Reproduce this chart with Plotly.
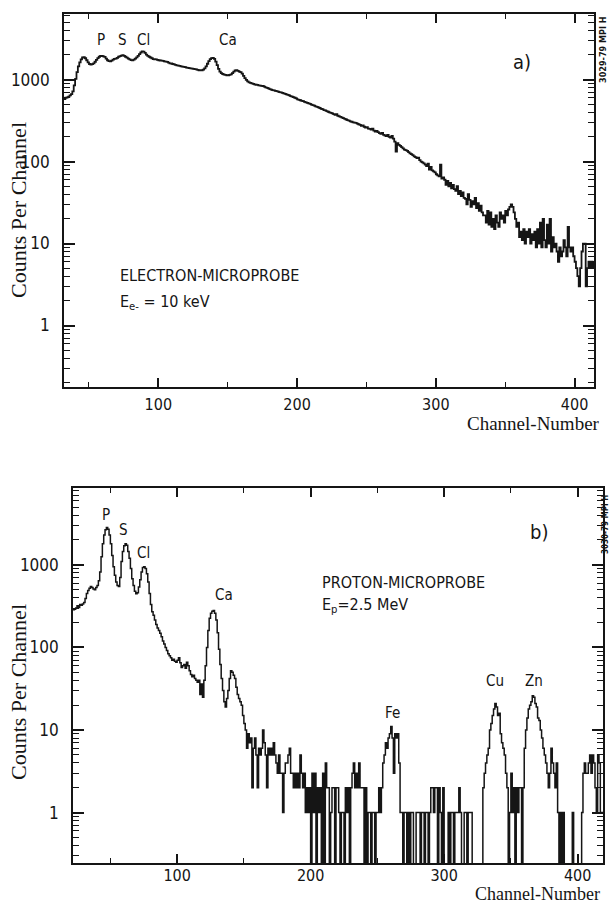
import math
import plotly.graph_objects as go

# ---------------- data ----------------
# a) electron microprobe spectrum, counts per channel, first channel = 32
channel_start_a = 32
counts_a = [
    580, 600, 605, 620, 640, 665, 720, 850, 1020, 1230,
    1450, 1620, 1760, 1860, 1880, 1820, 1720, 1620, 1550, 1520,
    1540, 1580, 1650, 1740, 1830, 1900, 1950, 1940, 1920, 1890,
    1800, 1720, 1680, 1670, 1700, 1750, 1790, 1800, 1840, 1900,
    1930, 1960, 1980, 1950, 1900, 1850, 1800, 1760, 1730, 1720,
    1750, 1800, 1870, 1950, 2050, 2140, 2200, 2190, 2120, 2020,
    1950, 1900, 1860, 1820, 1780, 1770, 1760, 1740, 1720, 1710,
    1700, 1690, 1670, 1660, 1640, 1610, 1580, 1570, 1550, 1530,
    1510, 1490, 1480, 1470, 1450, 1440, 1430, 1420, 1400, 1390,
    1380, 1370, 1360, 1350, 1340, 1330, 1310, 1300, 1300, 1300,
    1320, 1370, 1450, 1560, 1680, 1780, 1830, 1840, 1790, 1660,
    1500, 1350, 1250, 1200, 1170, 1150, 1140, 1130, 1130, 1140,
    1160, 1200, 1250, 1290, 1300, 1280, 1250, 1230, 1180, 1110,
    1040, 990, 950, 925, 910, 900, 885, 875, 865, 860,
    850, 845, 840, 835, 820, 805, 790, 780, 765, 755,
    745, 740, 730, 725, 715, 705, 700, 690, 680, 670,
    660, 650, 640, 630, 620, 612, 600, 590, 575, 565,
    560, 550, 545, 535, 528, 520, 512, 505, 495, 488,
    480, 470, 465, 458, 450, 440, 435, 425, 420, 412,
    405, 398, 392, 386, 380, 372, 378, 362, 355, 350,
    344, 338, 332, 326, 320, 315, 310, 306, 300, 298,
    296, 290, 285, 280, 272, 276, 266, 260, 262, 252,
    250, 246, 252, 238, 232, 236, 228, 222, 218, 224,
    212, 208, 205, 212, 200, 196, 205, 190, 175, 132,
    168, 160, 155, 150, 145, 140, 138, 135, 130, 126,
    123, 120, 116, 113, 110, 112, 104, 100, 98, 95,
    92, 88, 94, 80, 86, 78, 76, 74, 70, 68,
    66, 92, 62, 64, 60, 52, 58, 50, 55, 47,
    52, 46, 44, 50, 40, 44, 38, 42, 36, 35,
    30, 40, 34, 28, 33, 30, 36, 27, 31, 25,
    29, 24, 22, 22, 18, 25, 17, 24, 16, 20,
    15, 22, 18, 16, 24, 20, 22, 18, 25, 22,
    26, 28, 30, 28, 24, 20, 16, 18, 12, 14,
    11, 15, 10, 14, 12, 15, 10, 13, 11, 14,
    9, 15, 10, 18, 9, 20, 11, 9, 17, 10,
    20, 8, 12, 9, 10, 8, 6, 9, 7, 8,
    11, 9, 7, 16, 9, 8, 9, 7, 6, 5,
    4, 3, 5, 8, 10, 10, 3, 5, 6, 5,
    6, 5, 6,
]

# b) proton microprobe spectrum, counts per channel, first channel = 22
channel_start_b = 22
counts_b = [
    285,
    290, 300, 320, 305, 330, 325, 335, 350, 390, 450,
    490, 520, 545, 530, 510, 500, 530, 560, 640, 820,
    1250, 1800, 2300, 2650, 2830, 2700, 2300, 1800, 1300, 950,
    750, 620, 560, 545, 700, 1100, 1450, 1700, 1800, 1720,
    1450, 1200, 900, 680, 560, 480, 445, 460, 540, 660,
    820, 930, 950, 900, 780, 620, 450, 330, 270, 245,
    215, 190, 172, 160, 148, 135, 120, 110, 100, 92,
    84, 79, 75, 70, 72, 68, 66, 70, 75, 65,
    57, 60, 62, 56, 66, 60, 52, 47, 44, 46,
    42, 40, 38, 40, 27, 36, 25, 40, 60, 100,
    160, 225, 260, 275, 280, 260, 215, 150, 95, 62,
    42, 30, 22, 19, 24, 30, 42, 52, 50, 46,
    42, 33, 27, 24, 22, 20, 15, 12, 10, 6,
    9, 7, 8, 2, 6, 8, 5, 2, 6, 5,
    6, 10, 7, 5, 2, 6, 5, 6, 5, 7,
    5, 4, 3, 5, 3, 3, 1, 3, 4, 4,
    5, 6, 3, 3, 2, 3, 2, 3, 2, 5,
    3, 2, 3, 1, 2, 1, 2, 0, 3, 1,
    3, 0, 2, 1, 2, 0, 3, 0, 4, 2,
    2, 0, 1, 2, 2, 0, 2, 2, 1, 0,
    1, 1, 0, 2, 1, 2, 0, 2, 3, 4,
    2, 3, 2, 4, 2, 2, 2, 0, 2, 0,
    1, 1, 0, 1, 1, 0, 1, 1, 2, 1,
    2, 4, 5, 7, 6, 8, 9, 11, 8, 3,
    9, 8, 9, 4, 1, 1, 0, 1, 1, 0,
    1, 0, 1, 1, 0, 0, 1, 1, 1, 0,
    1, 1, 0, 1, 1, 0, 1, 2, 2, 1,
    2, 2, 0, 2, 1, 0, 2, 0, 0, 0,
    1, 0, 1, 1, 0, 1, 1, 1, 2, 1,
    0, 0, 1, 1, 0, 1, 1, 1, 0, 0,
    0, 0, 0, 0, 0, 0, 2, 3, 4, 5,
    6, 10, 12, 15, 18, 21, 19, 15, 16, 9,
    7, 6, 5, 3, 2, 0, 1, 3, 1, 2,
    0, 2, 1, 2, 2, 0, 2, 6, 10, 14,
    18, 20, 22, 26, 25, 21, 19, 14, 13, 10,
    8, 6, 5, 4, 3, 2, 3, 6, 4, 3,
    2, 4, 1, 0, 1, 0, 1, 0, 0, 0,
    0, 0, 0, 1, 0, 0, 0, 0, 0, 0,
    1, 3, 4, 3, 3, 4, 5, 3, 5, 4,
    2, 1, 5, 4, 1, 1, 1, 1,
]

# peak labels: (text, channel, counts at label centre)
peaks_a = [("P", 59, 3060), ("S", 74, 3060), ("Cl", 89, 3060), ("Ca", 150, 3060)]
peaks_b = [("P", 47, 3980), ("S", 60, 2630), ("Cl", 75, 1380), ("Ca", 135, 436),
           ("Fe", 261, 16), ("Cu", 338, 39.5), ("Zn", 367, 39.5)]

y_tick_vals = [1, 10, 100, 1000]
y_tick_text = ["1", "10", "100", "1000"]
x_tick_vals = [100, 200, 300, 400]
x_minor_vals = [50, 150, 250, 350]

# ---------------- figure ----------------
W, H = 612, 907
channels_a = list(range(channel_start_a, channel_start_a + len(counts_a)))
channels_b = list(range(channel_start_b, channel_start_b + len(counts_b)))
# zero counts are drawn down past the bottom of the log axis
plot_b = [c if c > 0 else 0.02 for c in counts_b]

SANS = "DejaVu Sans Condensed, Liberation Sans Narrow, Liberation Sans, Arial, sans-serif"
SERIF = "Liberation Serif, Times New Roman, serif"
INK = "#151515"

fig = go.Figure()
fig.add_trace(go.Scatter(x=channels_a, y=counts_a, mode="lines", line_shape="hv",
                         line=dict(color=INK, width=1.8), xaxis="x", yaxis="y",
                         showlegend=False, hoverinfo="skip"))
fig.add_trace(go.Scatter(x=channels_b, y=plot_b, mode="lines", line_shape="hv",
                         line=dict(color=INK, width=1.5), xaxis="x2", yaxis="y2",
                         showlegend=False, hoverinfo="skip"))


def px_x(p):
    return p / W


def px_y(p):
    return 1 - p / H


minor_y = [v * m for v in (0.1, 1, 10, 100, 1000) for m in range(2, 10)]


def xaxis(domain, rng, anchor, standoff):
    return dict(domain=domain, range=rng, anchor=anchor, showgrid=False, zeroline=False,
                showline=True, linecolor=INK, linewidth=1.6, mirror="allticks",
                ticks="inside", ticklen=9, tickwidth=1.5, tickcolor=INK,
                tickmode="array", tickvals=x_tick_vals,
                ticklabelstandoff=standoff,
                tickfont=dict(family=SANS, size=16, color=INK),
                minor=dict(tickmode="array", tickvals=x_minor_vals,
                           ticks="inside", ticklen=5, tickwidth=1.3, tickcolor=INK,
                           showgrid=False))


def yaxis(domain, rng, anchor):
    return dict(domain=domain, range=rng, anchor=anchor, type="log", showgrid=False,
                zeroline=False, showline=True, linecolor=INK, linewidth=1.6,
                mirror="allticks", ticks="inside", ticklen=11, tickwidth=1.5,
                tickcolor=INK, tickmode="array", tickvals=y_tick_vals,
                ticktext=y_tick_text, ticklabelstandoff=9,
                tickfont=dict(family=SANS, size=17, color=INK),
                minor=dict(tickmode="array", tickvals=minor_y, ticks="inside",
                           ticklen=6, tickwidth=1.2, tickcolor=INK, showgrid=False))


fig.update_layout(
    width=W, height=H, autosize=False,
    margin=dict(l=0, r=0, t=0, b=0),
    paper_bgcolor="white", plot_bgcolor="white",
    xaxis=xaxis([px_x(64), px_x(594)], [32, 414], "y", 2),
    yaxis=yaxis([px_y(387), px_y(14)], [-0.75, 3.80], "x"),
    xaxis2=xaxis([px_x(73), px_x(603)], [22, 419], "y2", -3),
    yaxis2=yaxis([px_y(863), px_y(488)], [-0.61, 3.93], "x2"),
)

ann = []
lab_font = dict(family=SANS, size=15, color=INK)
for t, xc, yc in peaks_a:
    ann.append(dict(x=xc, y=math.log10(yc), xref="x", yref="y", text=t,
                    showarrow=False, font=lab_font))
for t, xc, yc in peaks_b:
    ann.append(dict(x=xc, y=math.log10(yc), xref="x2", yref="y2", text=t,
                    showarrow=False, font=lab_font))

ann += [
    dict(x=362, y=3.22, xref="x", yref="y", text="a)", showarrow=False,
         font=dict(family=SANS, size=20, color=INK)),
    dict(x=371, y=3.40, xref="x2", yref="y2", text="b)", showarrow=False,
         font=dict(family=SANS, size=20, color=INK)),
    dict(x=71, y=0.608, xref="x", yref="y", xanchor="left", text="ELECTRON-MICROPROBE",
         showarrow=False, font=dict(family=SANS, size=16, color=INK)),
    dict(x=71, y=0.284, xref="x", yref="y", xanchor="left", text="E<sub>e-</sub> = 10 keV",
         showarrow=False, font=dict(family=SANS, size=16, color=INK)),
    dict(x=207, y=2.79, xref="x2", yref="y2", xanchor="left", text="PROTON-MICROPROBE",
         showarrow=False, font=dict(family=SANS, size=16, color=INK)),
    dict(x=207, y=2.507, xref="x2", yref="y2", xanchor="left", text="E<sub>p</sub>=2.5 MeV",
         showarrow=False, font=dict(family=SANS, size=16, color=INK)),
    # axis titles
    dict(x=px_x(18), y=px_y(210), xref="paper", yref="paper", xanchor="center",
         yanchor="middle", text="Counts Per Channel", textangle=-90, showarrow=False,
         font=dict(family=SERIF, size=22, color=INK)),
    dict(x=px_x(18), y=px_y(692), xref="paper", yref="paper", xanchor="center",
         yanchor="middle", text="Counts Per Channel", textangle=-90, showarrow=False,
         font=dict(family=SERIF, size=22, color=INK)),
    dict(x=px_x(602), y=px_y(436), xref="paper", yref="paper", xanchor="right",
         yanchor="bottom", text="Channel-Number", showarrow=False,
         font=dict(family=SERIF, size=19, color=INK)),
    dict(x=px_x(602), y=px_y(906), xref="paper", yref="paper", xanchor="right",
         yanchor="bottom", text="Channel-Number", showarrow=False,
         font=dict(family=SERIF, size=18, color=INK)),
    # plate codes on the right margin
    dict(x=px_x(603), y=px_y(50), xref="paper", yref="paper", xanchor="center",
         yanchor="middle", text="<b>3029-79 MPI H</b>", textangle=-90, showarrow=False,
         font=dict(family=SANS, size=9, color=INK)),
    dict(x=px_x(605), y=px_y(525), xref="paper", yref="paper", xanchor="center",
         yanchor="middle", text="<b>3030-79 MPI H</b>", textangle=-90, showarrow=False,
         font=dict(family=SANS, size=8, color=INK)),
]
fig.update_layout(annotations=ann)

# no mode bar, and no default 8px body margin around the figure
fig.write_html("out.html", config={"displayModeBar": False},
               post_script="document.body.style.margin='0';document.body.style.padding='0';")
